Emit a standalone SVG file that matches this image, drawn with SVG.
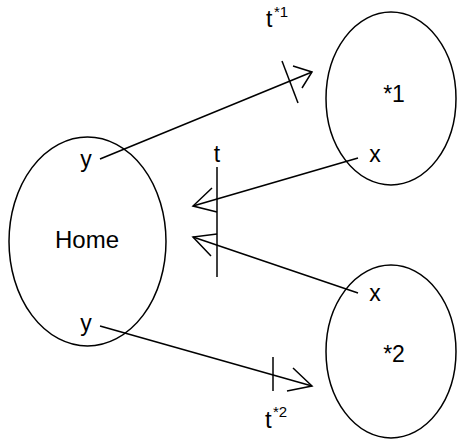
<svg xmlns="http://www.w3.org/2000/svg" width="457" height="441" viewBox="0 0 457 441">
<style>
.s{fill:none;stroke:#000;stroke-width:1.5}
text{font-family:"Liberation Sans",Arial,sans-serif;fill:#000}
.l{font-size:23px}
.sup{font-size:15px}
</style>
<rect width="457" height="441" fill="#fff"/>
<g id="home">
<ellipse class="s" cx="87.5" cy="241.5" rx="78.5" ry="104.5"/>
<text class="l" x="87" y="248" text-anchor="middle" style="font-size:24px">Home</text>
<text class="l" x="86" y="167" text-anchor="middle">y</text>
<text class="l" x="86" y="331" text-anchor="middle">y</text>
</g>
<g id="n1">
<ellipse class="s" cx="391" cy="98.5" rx="65" ry="86.5"/>
<text class="l" x="394" y="102" text-anchor="middle">*1</text>
<text class="l" x="375" y="162" text-anchor="middle">x</text>
</g>
<g id="n2">
<ellipse class="s" cx="391" cy="351.5" rx="65" ry="86.5"/>
<text class="l" x="394" y="362" text-anchor="middle">*2</text>
<text class="l" x="375" y="301" text-anchor="middle">x</text>
</g>
<g id="connectors">
<line class="s" x1="100" y1="159" x2="312" y2="72"/>
<polyline class="s" points="293,66 312,72 302,88"/>
<line class="s" x1="282" y1="61" x2="298" y2="103"/>
<line class="s" x1="358" y1="158" x2="193" y2="206"/>
<polyline class="s" points="212,188 193,206 217,212"/>
<line class="s" x1="358" y1="293" x2="193" y2="237"/>
<polyline class="s" points="217,234 193,237 211,256"/>
<line class="s" x1="217" y1="167" x2="217" y2="277"/>
<line class="s" x1="100" y1="326" x2="312" y2="386"/>
<polyline class="s" points="293,368 312,386 287,391"/>
<line class="s" x1="273" y1="357" x2="273" y2="391"/>
</g>
<g id="labels">
<text class="l" x="217" y="162" text-anchor="middle">t</text>
<text class="l" x="266" y="27">t</text>
<text class="sup" x="274" y="17">*1</text>
<text class="l" x="265" y="428" style="font-size:24px">t</text>
<text class="sup" x="273" y="417">*2</text>
</g>
</svg>
